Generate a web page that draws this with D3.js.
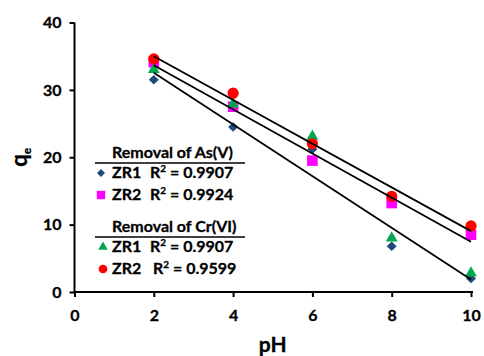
<!DOCTYPE html>
<html><head><meta charset="utf-8">
<script src="https://cdn.jsdelivr.net/npm/d3@7"></script>
<style>
html,body{margin:0;padding:0;background:#fff;}
text{font-family:Lato,"Open Sans",sans-serif;font-weight:bold;fill:#000;}
</style></head>
<body>
<svg id="chart" width="484" height="356"></svg>
<script>
const pH = [2, 4, 6, 8, 10];
const asZR1 = [31.5, 24.5, 21.2, 6.8, 2.0];
const asZR2 = [34.1, 27.5, 19.5, 13.2, 8.5];
const crZR1 = [33.0, 27.9, 23.1, 8.0, 2.8];
const crZR2 = [34.6, 29.5, 22.0, 14.2, 9.8];
const xTicks = [0, 2, 4, 6, 8, 10];
const yTicks = [0, 10, 20, 30, 40];
const legendGroups = ["Removal of As(V)", "Removal of Cr(VI)"];
const seriesNames = ["ZR1", "ZR2", "ZR1", "ZR2"];
const r2Labels = ["0.9907", "0.9924", "0.9907", "0.9599"];

const svg = d3.select("#chart");
const x = d3.scaleLinear().domain([0, 10]).range([74.5, 471]);
const y = d3.scaleLinear().domain([0, 40]).range([292, 22.5]);

// diamond: width w, height h
const diamond = (w, h) => `M0,${-h/2}L${w/2},0L0,${h/2}L${-w/2},0Z`;
const sym = (t, s) => () => d3.symbol().type(t).size(s)();

const series = [
  {vals: asZR1, path: () => diamond(10, 9.5), lpath: () => diamond(8, 8), color: "#1F497D", fit: true},
  {vals: asZR2, path: sym(d3.symbolSquare, 112), lpath: sym(d3.symbolSquare, 70), color: "#FF00FF", fit: true},
  {vals: crZR1, path: sym(d3.symbolTriangle, 60), lpath: sym(d3.symbolTriangle, 40), color: "#00A650", fit: false},
  {vals: crZR2, path: sym(d3.symbolCircle, 100), lpath: sym(d3.symbolCircle, 60), color: "#FF0000", fit: true}
];

// axes
const xAxis = d3.axisBottom(x).tickValues(xTicks).tickSize(5).tickPadding(12).tickFormat(d3.format("d"));
const gx = svg.append("g").attr("transform", `translate(0,${y(0)})`).call(xAxis);
gx.select(".domain").attr("stroke-width", 2).attr("d", `M${x(0)},0H${x(10)+2}`);
gx.selectAll(".tick line").attr("stroke-width", 2);
gx.selectAll(".tick text").attr("font-size", 16).attr("dy", "0.72em");

const yAxis = d3.axisLeft(y).tickValues(yTicks).tickSize(5).tickPadding(8);
const gy = svg.append("g").attr("transform", `translate(${x(0)},0)`).call(yAxis);
gy.select(".domain").attr("stroke-width", 2).attr("d", `M0,${y(40)}V${y(0)}`);
gy.selectAll(".tick line").attr("stroke-width", 2);
gy.selectAll(".tick text").attr("font-size", 16);
svg.selectAll(".tick text").style("font-family", "Lato").style("font-weight", "bold")
  .attr("stroke", "#000").attr("stroke-width", 0.3);

// axis titles
svg.append("text").attr("x", x(5)).attr("y", 352).attr("text-anchor", "middle").attr("font-size", 21)
  .attr("stroke", "#000").attr("stroke-width", 0.3).text("pH");
const yt = svg.append("text").attr("transform", `translate(27,${y(20)}) rotate(-90)`).attr("text-anchor", "middle")
  .attr("font-size", 22).attr("stroke", "#000").attr("stroke-width", 0.3);
yt.append("tspan").text("q");
yt.append("tspan").attr("font-size", 12).attr("dy", 4).text("e");

// markers
series.forEach(s => {
  svg.append("g").selectAll("path").data(s.vals).join("path")
    .attr("d", s.path)
    .attr("transform", (d, i) => `translate(${x(pH[i])},${y(d)})`)
    .attr("fill", s.color);
});

// linear trendlines
function fit(vals) {
  const mx = d3.mean(pH), my = d3.mean(vals);
  const b = d3.sum(pH, (p, i) => (p - mx) * (vals[i] - my)) / d3.sum(pH, p => (p - mx) ** 2);
  return [b, my - b * mx];
}
series.filter(s => s.fit).forEach(s => {
  const [b, a] = fit(s.vals);
  const x0 = d3.min(pH), x1 = d3.max(pH);
  svg.append("line").attr("x1", x(x0)).attr("y1", y(a + b * x0)).attr("x2", x(x1)).attr("y2", y(a + b * x1))
    .attr("stroke", "#000").attr("stroke-width", 1.8);
});

// legend
const lg = svg.append("g");
const titleY = [158, 232], ruleY = [163, 237];
const rowY = [178, 200, 252, 274];
legendGroups.forEach((t, i) => {
  lg.append("text").attr("x", 112).attr("y", titleY[i]).attr("font-size", 16)
    .attr("stroke", "#000").attr("stroke-width", 0.3).text(t);
  lg.append("line").attr("x1", 95).attr("x2", 245).attr("y1", ruleY[i]).attr("y2", ruleY[i]).attr("stroke", "#000").attr("stroke-width", 1.5);
});
series.forEach((s, i) => {
  lg.append("path").attr("d", s.lpath)
    .attr("transform", `translate(${i < 2 ? 101 : 103},${rowY[i] - 5})`).attr("fill", s.color);
  lg.append("text").attr("x", 112).attr("y", rowY[i]).attr("font-size", 16)
    .attr("stroke", "#000").attr("stroke-width", 0.3).text(seriesNames[i]);
  const t = lg.append("text").attr("x", i === 3 ? 153 : 150).attr("y", rowY[i]).attr("font-size", 16)
    .attr("stroke", "#000").attr("stroke-width", 0.3);
  t.append("tspan").text("R");
  t.append("tspan").attr("font-size", 10).attr("dy", -6).text("2");
  t.append("tspan").attr("dy", 6).text(" = " + r2Labels[i]);
});
</script>
</body></html>
